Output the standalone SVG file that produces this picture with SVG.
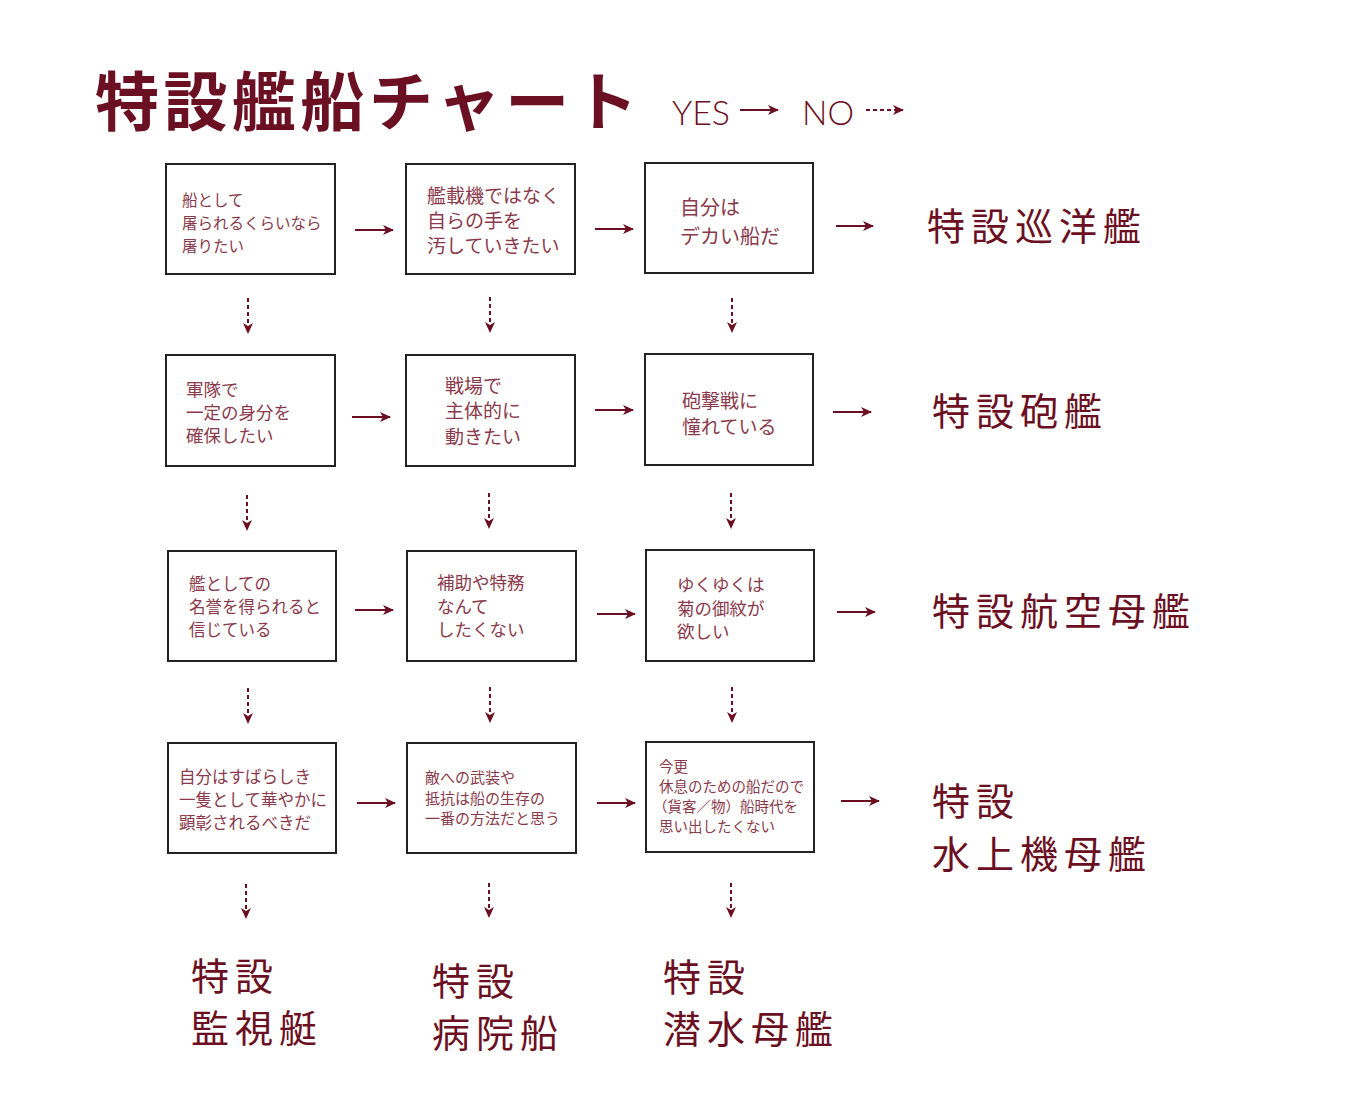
<svg xmlns="http://www.w3.org/2000/svg" width="1345" height="1100" viewBox="0 0 1345 1100">
<style>
.box{fill:#fff;stroke:#222;stroke-width:2}
.bt{font-family:"Noto Sans CJK JP","Noto Sans",sans-serif;font-weight:400;fill:#8a3a4c}
.lbl{font-family:"Noto Sans CJK JP","Noto Sans",sans-serif;font-weight:400;font-size:38px;letter-spacing:6px;fill:#6b0f22;dominant-baseline:central}
.title{font-family:"Noto Sans CJK JP","Noto Sans",sans-serif;font-weight:700;font-size:64px;letter-spacing:4.5px;fill:#6b0f22;dominant-baseline:central}
.leg{font-family:"Lato","Open Sans",sans-serif;font-weight:300;font-size:34px;fill:#6b0f22;dominant-baseline:central}
.yes{stroke:#6b0f22;stroke-width:2;fill:none;marker-end:url(#ah)}
.no{stroke:#6b0f22;stroke-width:2;fill:none;stroke-dasharray:4 3;marker-end:url(#ah)}
</style>
<defs>
<marker id="ah" markerUnits="userSpaceOnUse" markerWidth="12" markerHeight="12" refX="10" refY="6" orient="auto">
<path d="M0,1 L11,6 L0,11 L3,6 z" fill="#6b0f22"/>
</marker>
</defs>
<rect width="1345" height="1100" fill="#fff"/>

<g id="title">
<text class="title" x="95" y="97">特設艦船チャート</text>
<text class="leg" x="672" y="111" textLength="58" lengthAdjust="spacingAndGlyphs">YES</text>
<text class="leg" x="802" y="111" textLength="52" lengthAdjust="spacingAndGlyphs">NO</text>
<line class="yes" x1="740" y1="110" x2="778" y2="110"/>
<line class="no" x1="866" y1="110" x2="903" y2="110"/>
</g>

<g id="connectors">
<line class="yes" x1="355" y1="230" x2="393" y2="230"/>
<line class="yes" x1="595" y1="229" x2="633" y2="229"/>
<line class="yes" x1="836" y1="226" x2="873" y2="226"/>
<line class="yes" x1="352" y1="417" x2="390" y2="417"/>
<line class="yes" x1="595" y1="410" x2="633" y2="410"/>
<line class="yes" x1="833" y1="412" x2="871" y2="412"/>
<line class="yes" x1="355" y1="610" x2="393" y2="610"/>
<line class="yes" x1="597" y1="614" x2="635" y2="614"/>
<line class="yes" x1="837" y1="612" x2="875" y2="612"/>
<line class="yes" x1="357" y1="803" x2="395" y2="803"/>
<line class="yes" x1="597" y1="803" x2="635" y2="803"/>
<line class="yes" x1="841" y1="801" x2="879" y2="801"/>

<line class="no" x1="248" y1="298" x2="248" y2="333"/>
<line class="no" x1="490" y1="297" x2="490" y2="332"/>
<line class="no" x1="732" y1="298" x2="732" y2="332"/>
<line class="no" x1="247" y1="495" x2="247" y2="530"/>
<line class="no" x1="489" y1="493" x2="489" y2="528"/>
<line class="no" x1="731" y1="493" x2="731" y2="528"/>
<line class="no" x1="248" y1="688" x2="248" y2="723"/>
<line class="no" x1="490" y1="687" x2="490" y2="722"/>
<line class="no" x1="732" y1="687" x2="732" y2="722"/>
<line class="no" x1="246" y1="884" x2="246" y2="918"/>
<line class="no" x1="489" y1="883" x2="489" y2="917"/>
<line class="no" x1="731" y1="883" x2="731" y2="917"/>
</g>

<g id="q11"><rect class="box" x="166" y="164" width="169" height="110"/>
<text class="bt" font-size="15.5"><tspan x="182" y="206">船として</tspan><tspan x="182" y="229">屠られるくらいなら</tspan><tspan x="182" y="252">屠りたい</tspan></text></g>
<g id="q12"><rect class="box" x="406" y="164" width="169" height="110"/>
<text class="bt" font-size="19"><tspan x="427" y="203">艦載機ではなく</tspan><tspan x="427" y="228">自らの手を</tspan><tspan x="427" y="253">汚していきたい</tspan></text></g>
<g id="q13"><rect class="box" x="645" y="163" width="168" height="110"/>
<text class="bt" font-size="20"><tspan x="680" y="215">自分は</tspan><tspan x="680" y="244">デカい船だ</tspan></text></g>

<g id="q21"><rect class="box" x="166" y="355" width="169" height="111"/>
<text class="bt" font-size="17.5"><tspan x="186" y="396">軍隊で</tspan><tspan x="186" y="419">一定の身分を</tspan><tspan x="186" y="442">確保したい</tspan></text></g>
<g id="q22"><rect class="box" x="406" y="355" width="169" height="111"/>
<text class="bt" font-size="19"><tspan x="445" y="393">戦場で</tspan><tspan x="445" y="418">主体的に</tspan><tspan x="445" y="444">動きたい</tspan></text></g>
<g id="q23"><rect class="box" x="645" y="354" width="168" height="111"/>
<text class="bt" font-size="19"><tspan x="682" y="408">砲撃戦に</tspan><tspan x="682" y="434">憧れている</tspan></text></g>

<g id="q31"><rect class="box" x="168" y="551" width="168" height="110"/>
<text class="bt" font-size="16.5"><tspan x="189" y="590">艦としての</tspan><tspan x="189" y="613">名誉を得られると</tspan><tspan x="189" y="636">信じている</tspan></text></g>
<g id="q32"><rect class="box" x="407" y="551" width="169" height="110"/>
<text class="bt" font-size="17.5"><tspan x="437" y="589">補助や特務</tspan><tspan x="437" y="613">なんて</tspan><tspan x="437" y="636">したくない</tspan></text></g>
<g id="q33"><rect class="box" x="646" y="550" width="168" height="111"/>
<text class="bt" font-size="17.5"><tspan x="677" y="591">ゆくゆくは</tspan><tspan x="677" y="615">菊の御紋が</tspan><tspan x="677" y="638">欲しい</tspan></text></g>

<g id="q41"><rect class="box" x="168" y="743" width="168" height="110"/>
<text class="bt" font-size="16.5"><tspan x="179" y="783">自分はすばらしき</tspan><tspan x="179" y="806">一隻として華やかに</tspan><tspan x="179" y="829">顕彰されるべきだ</tspan></text></g>
<g id="q42"><rect class="box" x="407" y="743" width="169" height="110"/>
<text class="bt" font-size="15"><tspan x="425" y="783">敵への武装や</tspan><tspan x="425" y="804">抵抗は船の生存の</tspan><tspan x="425" y="824">一番の方法だと思う</tspan></text></g>
<g id="q43"><rect class="box" x="646" y="742" width="168" height="110"/>
<text class="bt" font-size="14.5"><tspan x="659" y="772">今更</tspan><tspan x="659" y="792">休息のための船だので</tspan><tspan x="653" y="812">（貨客／物）船時代を</tspan><tspan x="659" y="832">思い出したくない</tspan></text></g>

<g id="r1"><text class="lbl" x="927" y="223">特設巡洋艦</text></g>
<g id="r2"><text class="lbl" x="932" y="408">特設砲艦</text></g>
<g id="r3"><text class="lbl" x="932" y="608">特設航空母艦</text></g>
<g id="r4"><text class="lbl" x="932" y="798">特設</text><text class="lbl" x="932" y="851">水上機母艦</text></g>
<g id="b1"><text class="lbl" x="191" y="973">特設</text><text class="lbl" x="191" y="1025">監視艇</text></g>
<g id="b2"><text class="lbl" x="432" y="978">特設</text><text class="lbl" x="432" y="1030">病院船</text></g>
<g id="b3"><text class="lbl" x="663" y="974">特設</text><text class="lbl" x="663" y="1026">潜水母艦</text></g>
</svg>
